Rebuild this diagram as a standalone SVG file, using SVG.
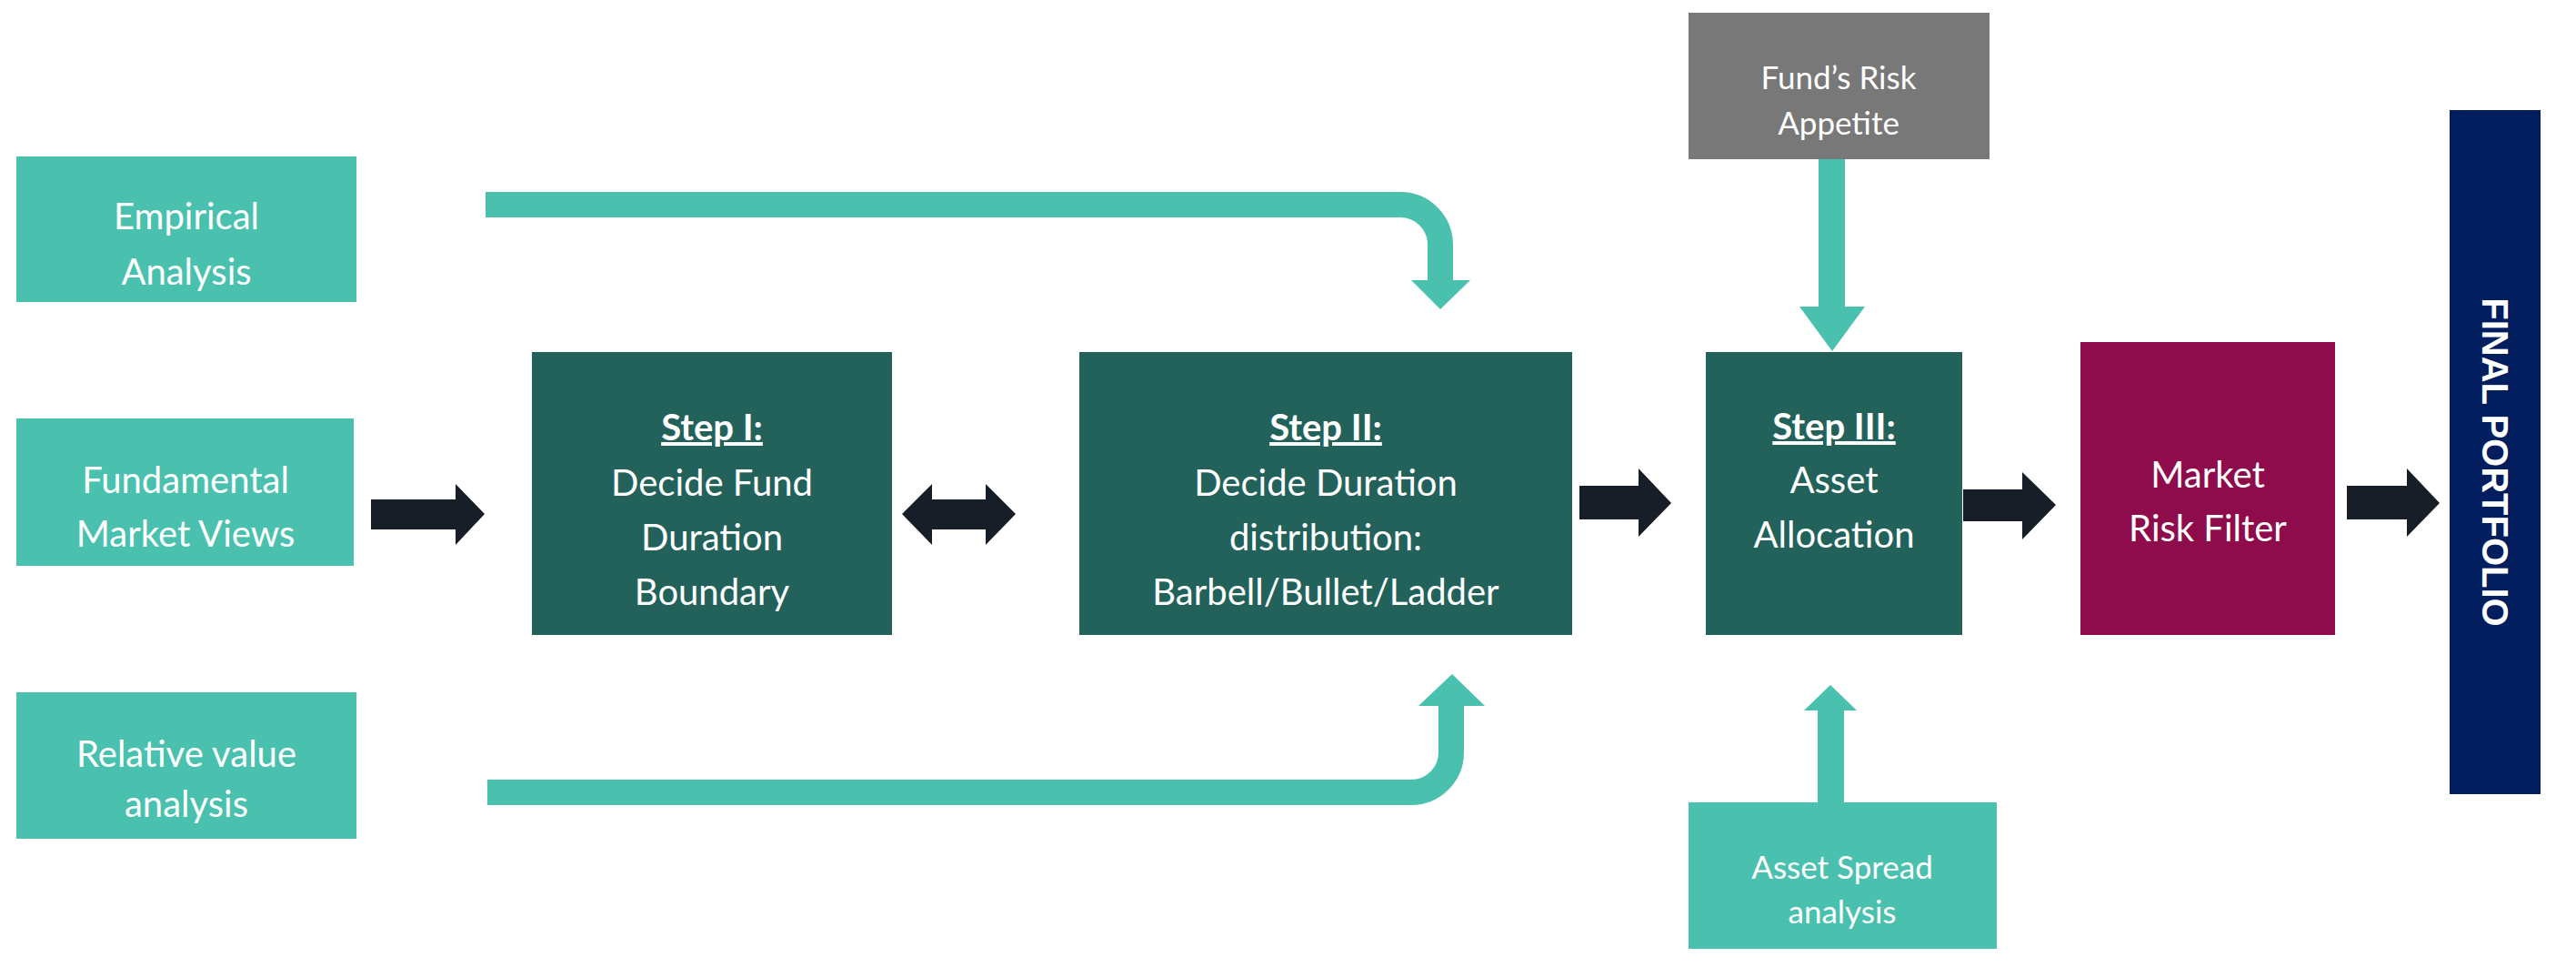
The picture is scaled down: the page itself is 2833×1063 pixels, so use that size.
<svg xmlns="http://www.w3.org/2000/svg" width="2833" height="1063" viewBox="0 0 2833 1063">
<style>
text{font-family:Lato,"Open Sans",sans-serif;fill:#fff;text-anchor:middle;font-size:40px}
.h{font-weight:bold;text-decoration:underline}
.teal{fill:#49C1AE}.dg{fill:#22625A}.dark{fill:#181E27}
.tl{fill:none;stroke:#49C1AE;stroke-width:28}
</style>
<rect width="2833" height="1063" fill="#fff"/>
<g id="connectors">
<polygon class="dark" points="408,549 501,549 501,532 533,565 501,599 501,582 408,582"/>
<polygon class="dark" points="992,565 1025,532 1025,549 1084,549 1084,532 1117,565 1084,599 1084,582 1025,582 1025,599"/>
<polygon class="dark" points="1737,534 1802,534 1802,515 1838,553 1802,590 1802,571 1737,571"/>
<polygon class="dark" points="2159,538 2224,538 2224,519 2261,555 2224,593 2224,573 2159,573"/>
<polygon class="dark" points="2581,534 2647,534 2647,515 2683,553 2647,590 2647,571 2581,571"/>
<path class="tl" d="M534,225 H1540 A44,44 0 0 1 1584,269 V310"/>
<polygon class="teal" points="1552,308 1617,308 1584,340"/>
<path class="tl" d="M536,871 H1552 A44,44 0 0 0 1596,827 V774"/>
<polygon class="teal" points="1560,776 1633,776 1597,741"/>
<rect class="teal" x="2000" y="175" width="29" height="164"/>
<polygon class="teal" points="1979,337 2051,337 2015,386"/>
<rect class="teal" x="1999" y="779" width="29" height="105"/>
<polygon class="teal" points="1984,781 2042,781 2013,753"/>
</g>
<g id="empirical"><rect class="teal" x="18" y="172" width="374" height="160"/><text x="205" y="252">Empirical</text><text x="205" y="313">Analysis</text></g>
<g id="fundamental"><rect class="teal" x="18" y="460" width="371" height="162"/><text x="204" y="542">Fundamental</text><text x="204" y="601">Market Views</text></g>
<g id="relative"><rect class="teal" x="18" y="761" width="374" height="161"/><text x="205" y="843">Relative value</text><text x="205" y="898">analysis</text></g>
<g id="step1"><rect class="dg" x="585" y="387" width="396" height="311"/><text class="h" x="783" y="484">Step I:</text><text x="783" y="545">Decide Fund</text><text x="783" y="605">Duration</text><text x="783" y="665">Boundary</text></g>
<g id="step2"><rect class="dg" x="1187" y="387" width="542" height="311"/><text class="h" x="1458" y="484">Step II:</text><text x="1458" y="545">Decide Duration</text><text x="1458" y="605">distribution:</text><text x="1458" y="665">Barbell/Bullet/Ladder</text></g>
<g id="step3"><rect class="dg" x="1876" y="387" width="282" height="311"/><text class="h" x="2017" y="483">Step III:</text><text x="2017" y="542">Asset</text><text x="2017" y="602">Allocation</text></g>
<g id="market"><rect fill="#8E0C4B" x="2288" y="376" width="280" height="322"/><text x="2428" y="536">Market</text><text x="2428" y="595">Risk Filter</text></g>
<g id="final"><rect fill="#031E5E" x="2694" y="121" width="100" height="752"/><text x="0" y="0" transform="translate(2730,508) rotate(90)" style="font-family:'Liberation Sans',Arial,sans-serif;font-weight:bold;font-size:40px">FINAL PORTFOLIO</text></g>
<g id="riskappetite"><rect fill="#787878" x="1857" y="14" width="331" height="161"/><text x="2022" y="98" style="font-size:35px">Fund’s  Risk</text><text x="2022" y="148" style="font-size:35px">Appetite</text></g>
<g id="spread"><rect class="teal" x="1857" y="882" width="339" height="161"/><text x="2026" y="966" style="font-size:35px">Asset Spread</text><text x="2026" y="1015" style="font-size:35px">analysis</text></g>
</svg>
